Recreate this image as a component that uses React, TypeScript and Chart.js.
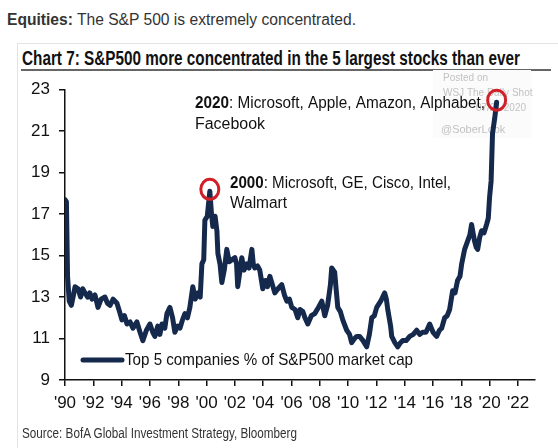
import React, { useEffect, useLayoutEffect, useRef } from "react";
import { Chart, registerables } from "chart.js";

Chart.register(...registerables);

// ---- data ----
const years = [
  1990.0, 1990.1, 1990.18, 1990.3, 1990.45, 1990.6, 1990.71, 1990.92, 1991.1, 1991.25,
  1991.41, 1991.6, 1991.75, 1991.91, 1992.12, 1992.33, 1992.55, 1992.82, 1993.0, 1993.18,
  1993.4, 1993.67, 1993.85, 1994.02, 1994.2, 1994.38, 1994.6, 1994.8, 1995.08, 1995.3,
  1995.5, 1995.75, 1996.0, 1996.2, 1996.35, 1996.55, 1996.7, 1996.85, 1997.05, 1997.2,
  1997.41, 1997.6, 1997.76, 1997.95, 1998.12, 1998.3, 1998.47, 1998.65, 1998.82, 1999.03,
  1999.2, 1999.39, 1999.55, 1999.67, 1999.8, 1999.88, 2000.05, 2000.23, 2000.35, 2000.44,
  2000.6, 2000.73, 2000.8, 2000.95, 2001.08, 2001.25, 2001.43, 2001.6, 2001.79, 2002.0,
  2002.12, 2002.2, 2002.35, 2002.49, 2002.65, 2002.84, 2003.0, 2003.2, 2003.3, 2003.41,
  2003.6, 2003.76, 2003.97, 2004.15, 2004.3, 2004.47, 2004.65, 2004.82, 2005.05, 2005.31,
  2005.5, 2005.67, 2005.85, 2006.02, 2006.25, 2006.44, 2006.6, 2006.8, 2006.95, 2007.15,
  2007.4, 2007.64, 2007.9, 2008.14, 2008.35, 2008.55, 2008.75, 2008.84, 2009.05, 2009.15,
  2009.27, 2009.45, 2009.62, 2009.9, 2010.1, 2010.25, 2010.45, 2010.61, 2010.82, 2011.05,
  2011.31, 2011.5, 2011.67, 2011.85, 2012.02, 2012.3, 2012.58, 2012.7, 2012.8, 2013.0,
  2013.08, 2013.3, 2013.5, 2013.7, 2013.85, 2014.1, 2014.35, 2014.6, 2014.84, 2015.05,
  2015.26, 2015.5, 2015.76, 2016.0, 2016.25, 2016.45, 2016.61, 2016.82, 2017.0, 2017.17,
  2017.38, 2017.55, 2017.73, 2017.9, 2018.02, 2018.23, 2018.44, 2018.6, 2018.72, 2018.85,
  2018.93, 2019.05, 2019.15, 2019.3, 2019.43, 2019.6, 2019.78, 2019.9, 2019.99, 2020.1,
  2020.2, 2020.35, 2020.49,
];
const values = [
  17.7, 17.6, 14.0, 12.8, 12.6, 13.1, 13.5, 13.4, 13.0, 13.4,
  13.2, 13.0, 13.2, 12.9, 13.1, 12.5, 12.9, 13.0, 12.7, 12.6,
  12.9, 12.7, 12.3, 11.9, 12.1, 11.7, 11.8, 11.5, 11.8, 11.3,
  10.9, 11.4, 11.7, 11.3, 11.1, 11.6, 11.2, 11.7, 11.5, 12.2,
  12.5, 12.0, 11.3, 11.6, 11.5, 11.9, 12.2, 12.0, 12.5, 13.5,
  12.9, 13.2, 13.0, 14.6, 14.8, 16.7, 16.9, 18.1, 17.0, 16.4,
  16.9, 16.2, 15.1, 14.6, 13.7, 14.3, 15.3, 14.7, 14.8, 14.9,
  14.6, 13.5, 14.2, 14.9, 14.3, 14.6, 14.4, 15.3, 14.6, 14.4,
  14.5, 14.3, 13.4, 13.8, 13.5, 14.0, 13.6, 13.2, 13.4, 13.6,
  13.1, 12.8, 12.9, 12.5, 12.4, 12.0, 12.4, 12.3, 12.0, 11.7,
  12.1, 12.2, 12.5, 12.8, 12.1, 12.6, 13.6, 14.4, 14.2, 13.4,
  12.5, 12.3, 11.9, 11.4, 11.2, 10.8, 11.0, 11.1, 11.1, 10.9,
  10.6, 11.2, 12.0, 12.1, 12.5, 12.8, 13.2, 12.9, 12.4, 11.6,
  11.1, 10.8, 10.6, 10.8, 10.9, 10.9, 11.1, 11.2, 11.4, 11.2,
  11.3, 11.3, 11.7, 11.3, 11.1, 11.4, 11.5, 12.0, 12.1, 12.4,
  13.3, 13.2, 13.8, 14.0, 14.6, 15.3, 15.7, 16.0, 16.5, 16.0,
  15.7, 15.4, 15.3, 15.9, 16.2, 16.1, 16.5, 16.8, 17.8, 18.6,
  20.9, 21.6, 22.4,
];
const xTickYears = [1990, 1992, 1994, 1996, 1998, 2000, 2002, 2004, 2006, 2008, 2010, 2012, 2014, 2016, 2018, 2020, 2022];
const yTickValues = [9, 11, 13, 15, 17, 19, 21, 23];
const seriesLabel = "Top 5 companies % of S&P500 market cap";
const headingBold = "Equities:";
const headingRest = " The S&P 500 is extremely concentrated.";
const chartTitle = "Chart 7: S&P500 more concentrated in the 5 largest stocks than ever";
const sourceText = "Source: BofA Global Investment Strategy, Bloomberg";
const note2000 = { from: 1998, to: 2003, bold: "2000", rest: ": Microsoft, GE, Cisco, Intel,", line2: "Walmart" };
const note2020 = { from: 2019, to: 2021, bold: "2020", rest: ": Microsoft, Apple, Amazon, Alphabet,", line2: "Facebook" };
const watermark = ["Posted on", "WSJ The Daily Shot", "07/21/2020", "@SoberLook"];

const NAVY = "#15294c";
const RED = "#d01f27";
const SANS = '"Liberation Sans", Arial, Helvetica, sans-serif';
const NARROW = '"Liberation Sans Narrow", "Arial Narrow", "Liberation Sans", Arial, sans-serif';

type Part = { text: string; font: string };

function fitParts(ctx: CanvasRenderingContext2D, parts: Part[], x: number, y: number, target: number, color: string) {
  let total = 0;
  const ws: number[] = [];
  parts.forEach((p) => {
    ctx.font = p.font;
    const w = ctx.measureText(p.text).width;
    ws.push(w);
    total += w;
  });
  const sx = total > 0 ? target / total : 1;
  ctx.save();
  ctx.translate(x, y);
  ctx.scale(sx, 1);
  ctx.fillStyle = color;
  ctx.textBaseline = "middle";
  ctx.textAlign = "left";
  let cx = 0;
  parts.forEach((p, i) => {
    ctx.font = p.font;
    ctx.fillText(p.text, cx, 0);
    cx += ws[i];
  });
  ctx.restore();
}

function peakIn(from: number, to: number) {
  let best = -1;
  for (let i = 0; i < years.length; i++) {
    if (years[i] >= from && years[i] <= to && (best < 0 || values[i] > values[best])) best = i;
  }
  return best;
}

const decorPlugin = {
  id: "decor",
  beforeDatasetsDraw(chart: any) {
    const ctx: CanvasRenderingContext2D = chart.ctx;
    ctx.save();
    ctx.fillStyle = "#fbfbfb";
    ctx.fillRect(433, 70, 98, 68);
    ctx.fillStyle = "#c2c2c2";
    ctx.textBaseline = "middle";
    ctx.textAlign = "left";
    ctx.font = `10px ${SANS}`;
    ctx.fillText(watermark[0], 443, 78);
    ctx.fillText(watermark[1], 443, 93);
    ctx.textAlign = "right";
    ctx.fillText(watermark[2], 526, 108);
    ctx.textAlign = "left";
    ctx.font = `11px ${SANS}`;
    ctx.fillText(watermark[3], 441, 130);
    ctx.restore();
  },
  afterDatasetsDraw(chart: any) {
    const ctx: CanvasRenderingContext2D = chart.ctx;
    const xs = chart.scales.x;
    const ys = chart.scales.y;
    // annotation texts
    fitParts(ctx, [
      { text: note2020.bold, font: `bold 16px ${NARROW}` },
      { text: note2020.rest, font: `16px ${NARROW}` },
    ], 195, 104, 290, "#111");
    fitParts(ctx, [{ text: note2020.line2, font: `16px ${NARROW}` }], 195, 125, 70, "#111");
    fitParts(ctx, [
      { text: note2000.bold, font: `bold 16px ${NARROW}` },
      { text: note2000.rest, font: `16px ${NARROW}` },
    ], 230, 184, 221, "#111");
    fitParts(ctx, [{ text: note2000.line2, font: `16px ${NARROW}` }], 230, 204, 57, "#111");
    // circles around the peaks
    [note2000, note2020].forEach((n) => {
      const i = peakIn(n.from, n.to);
      if (i < 0) return;
      const px = xs.getPixelForValue(years[i]);
      const py = ys.getPixelForValue(values[i]);
      ctx.save();
      ctx.strokeStyle = RED;
      ctx.lineWidth = 3;
      ctx.beginPath();
      ctx.ellipse(px, py - 2, 9, 10, 0, 0, Math.PI * 2);
      ctx.stroke();
      ctx.restore();
    });
    // legend
    ctx.save();
    ctx.strokeStyle = NAVY;
    ctx.lineWidth = 5;
    ctx.lineCap = "round";
    ctx.beginPath();
    ctx.moveTo(83, 360);
    ctx.lineTo(122, 360);
    ctx.stroke();
    ctx.restore();
    fitParts(ctx, [{ text: seriesLabel, font: `17px ${NARROW}` }], 125, 360, 288, "#111");
  },
};

function FitText(props: { left: number; top: number; width: number; style?: any; children: any }) {
  const ref = useRef<HTMLSpanElement>(null);
  useLayoutEffect(() => {
    const el = ref.current;
    if (!el) return;
    el.style.transform = "none";
    const w = el.getBoundingClientRect().width;
    if (w > 0) el.style.transform = `scaleX(${props.width / w})`;
  });
  return (
    <span
      ref={ref}
      style={{
        position: "absolute",
        left: props.left,
        top: props.top,
        whiteSpace: "nowrap",
        transformOrigin: "0 50%",
        lineHeight: 1,
        ...props.style,
      }}
    >
      {props.children}
    </span>
  );
}

export default function App() {
  const canvasRef = useRef<HTMLCanvasElement>(null);

  useEffect(() => {
    const canvas = canvasRef.current;
    if (!canvas) return;
    const chart = new Chart(canvas, {
      type: "line",
      data: {
        datasets: [
          {
            label: seriesLabel,
            data: years.map((x, i) => ({ x, y: values[i] })),
            borderColor: NAVY,
            borderWidth: 5,
            pointRadius: 0,
            tension: 0,
            borderJoinStyle: "round",
            borderCapStyle: "round",
            fill: false,
          },
        ],
      },
      options: {
        responsive: false,
        animation: false,
        devicePixelRatio: 1,
        layout: { padding: { top: 89.7, right: 23, bottom: 0, left: 0 } },
        plugins: {
          legend: { display: false },
          tooltip: { enabled: false },
          title: { display: false },
        },
        scales: {
          x: {
            type: "linear",
            min: 1990,
            max: 2023.2,
            afterFit: (s: any) => {
              s.height = 68;
            },
            afterBuildTicks: (s: any) => {
              s.ticks = xTickYears.map((v) => ({ value: v }));
            },
            ticks: {
              autoSkip: false,
              includeBounds: false,
              maxRotation: 0,
              padding: 7,
              color: "#111",
              font: { family: SANS, size: 17 },
              callback: (v: any) => "'" + String(v).slice(2),
            },
            grid: { drawOnChartArea: false, drawTicks: true, tickLength: 6, color: "#111", lineWidth: 1.5 },
            border: { display: true, color: "#111", width: 1.5 },
          },
          y: {
            type: "linear",
            min: 9,
            max: 23,
            afterFit: (s: any) => {
              s.width = 65;
            },
            afterBuildTicks: (s: any) => {
              s.ticks = yTickValues.map((v) => ({ value: v }));
            },
            ticks: {
              padding: 9,
              color: "#111",
              font: { family: SANS, size: 17 },
            },
            grid: { drawOnChartArea: false, drawTicks: true, tickLength: 6, color: "#111", lineWidth: 1.5 },
            border: { display: true, color: "#111", width: 1.5 },
          },
        },
      },
      plugins: [decorPlugin],
    } as any);
    return () => chart.destroy();
  }, []);

  return (
    <div
      style={{
        position: "absolute",
        left: 0,
        top: 0,
        width: 558,
        height: 448,
        background: "#fff",
        overflow: "hidden",
        fontFamily: SANS,
      }}
    >
      <div
        style={{
          position: "absolute",
          left: 17,
          top: 43,
          width: 545,
          height: 420,
          border: "1px solid #e4e4e4",
          boxSizing: "border-box",
        }}
      />
      <FitText left={7} top={12} width={349} style={{ fontSize: 16, color: "#333", fontFamily: SANS }}>
        <b>{headingBold}</b>
        {headingRest}
      </FitText>
      <FitText left={22} top={48} width={498} style={{ fontSize: 20, color: "#111", fontWeight: "bold", fontFamily: NARROW }}>
        {chartTitle}
      </FitText>
      <div style={{ position: "absolute", left: 21, top: 69, width: 530, height: 2, background: "#666" }} />
      <canvas
        ref={canvasRef}
        width={558}
        height={448}
        style={{ position: "absolute", left: 0, top: 0, width: 558, height: 448 }}
      />
      <FitText left={22} top={426} width={275} style={{ fontSize: 14, color: "#333", fontFamily: NARROW }}>
        {sourceText}
      </FitText>
    </div>
  );
}
